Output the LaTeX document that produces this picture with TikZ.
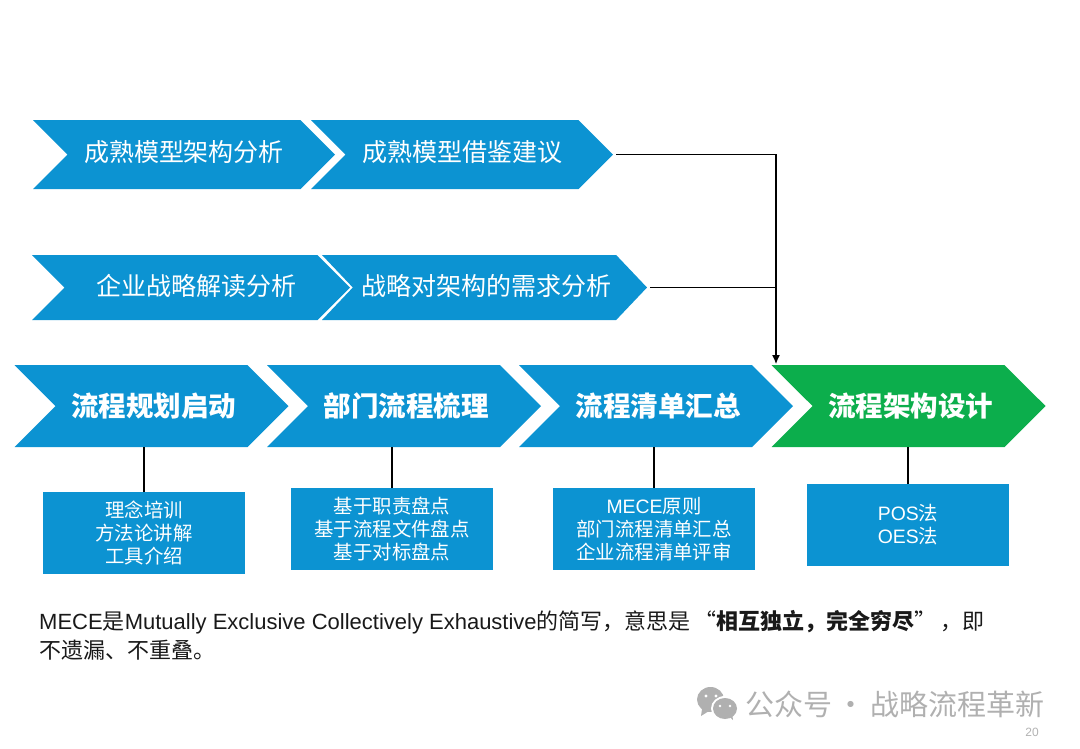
\documentclass[tikz,border=0pt]{standalone}
\usepackage{fontspec}
\setmainfont{Noto Sans CJK SC}
\newfontfamily\latinfont{Liberation Sans}
\usetikzlibrary{shapes,arrows.meta,positioning}
\definecolor{flowblue}{HTML}{0C93D2}
\definecolor{flowgreen}{HTML}{0CAE4C}
\definecolor{markgray}{HTML}{B0B0B0}
\begin{document}
\begin{tikzpicture}[
  x=1pt, y=-1pt,
  chevron/.style={signal, signal from=west, signal to=east, signal pointer angle=90, draw=none, fill=flowblue, text=white, inner sep=0pt, outer sep=0pt},
  small/.style={chevron, minimum height=69pt, text depth=7pt, font=\fontsize{25}{29}\selectfont},
  middle/.style={chevron, minimum height=65pt, text depth=5pt, signal pointer angle=93, font=\fontsize{25}{29}\selectfont},
  main/.style={chevron, minimum width=274pt, minimum height=82pt, execute at begin node=\hspace*{4pt}, font=\bfseries\fontsize{27.5}{32}\selectfont},
  detail/.style={fill=flowblue, text=white, align=center, minimum width=202pt, minimum height=82pt, inner sep=0pt, outer sep=0pt, font=\fontsize{19.4}{23}\selectfont},
  link/.style={black, line width=1.4pt},
  feed/.style={-{Latex[length=9pt,width=8pt]}, black, line width=1.2pt},
  remark/.style={anchor=west, inner sep=0pt, text=black!90, font=\fontsize{22}{28}\selectfont}
]
\useasboundingbox (0,0) rectangle (1080,748);
% upper rows
\node[small, minimum width=302pt] (maturea) at (184,154.5) {成熟模型架构分析};
\node[small, minimum width=302pt] (matureb) at (462,154.5) {成熟模型借鉴建议};
\node[middle, minimum width=318pt, signal pointer angle=90, execute at begin node=\hspace*{10pt}] (strategya) at (191,287.5) {企业战略解读分析};
\node[middle, minimum width=325pt, execute at begin node=\hspace*{4pt}] (strategyb) at (484.5,287.5) {战略对架构的需求分析};
% main flow
\node[main] (start) at (151.5,406) {流程规划启动};
\node[main] (sort) at (404,406) {部门流程梳理};
\node[main] (list) at (656,406) {流程清单汇总};
\node[main, fill=flowgreen] (design) at (908.5,406) {流程架构设计};
% details
\node[detail] (train) at (144,533) {理念培训\\方法论讲解\\工具介绍};
\node[detail] (stock) at (392,529) {基于职责盘点\\基于流程文件盘点\\基于对标盘点};
\node[detail] (mece) at (654,529) {{\latinfont MECE}原则\\部门流程清单汇总\\企业流程清单评审};
\node[detail] (method) at (908,525) {{\latinfont POS}法\\{\latinfont OES}法};
\draw[link] (train.north) -- (train.north |- start.south);
\draw[link] (stock.north) -- (stock.north |- sort.south);
\draw[link] (mece.north) -- (mece.north |- list.south);
\draw[link] (method.north) -- (method.north |- design.south);
% feeds into design
\coordinate (feedend) at (776,364);
\draw[feed, shorten <=3pt] (matureb.east) -| (feedend);
\draw[link, line width=1.2pt, shorten <=3pt] (strategyb.east) -- (strategyb.east -| feedend);
% note
\node[remark] (note) at (39,622) {{\latinfont MECE}是{\latinfont Mutually Exclusive Collectively Exhaustive}的简写，意思是\,“\textbf{相互独立，完全穷尽}”\,，即};
\node[remark] (noteb) at (39,650) {不遗漏、不重叠。};
% watermark
\fill[markgray] (710.5,699.5) ellipse (13.5pt and 12.5pt);
\fill[markgray] (702,709) -- (701,716) -- (709,711) -- cycle;
\fill[white] (725,708.5) ellipse (14pt and 12.5pt);
\fill[markgray] (725,708.5) ellipse (12pt and 10.5pt);
\fill[markgray] (729,716) -- (733,720) -- (732,713) -- cycle;
\fill[white] (706,696) circle (1.6pt) (716,696) circle (1.6pt) (720,706) circle (1.4pt) (730,706) circle (1.4pt);
\node[anchor=west, inner sep=0pt, text=markgray, font=\fontsize{29}{32}\selectfont] (mark) at (745,704) {公众号\hspace{-2pt} · \hspace{-2pt}战略流程革新};
\node[inner sep=0pt, text=black!30, font=\latinfont\fontsize{12}{14}\selectfont] (page) at (1032,732) {20};
\end{tikzpicture}
\end{document}
